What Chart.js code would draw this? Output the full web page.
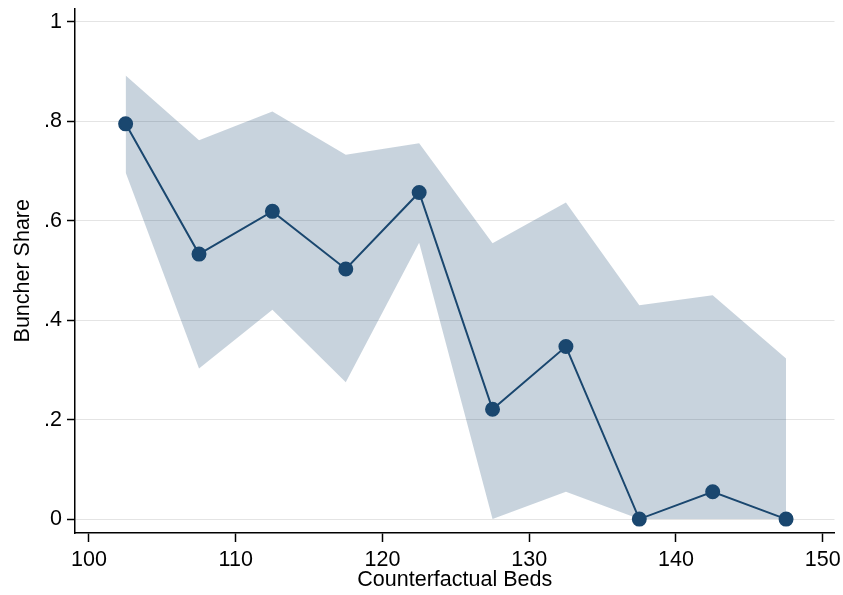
<!DOCTYPE html>
<html>
<head>
<meta charset="utf-8">
<script src="https://cdn.jsdelivr.net/npm/chart.js@4/dist/chart.umd.min.js"></script>
<style>
  html, body { margin: 0; padding: 0; background: #fff; }
  #wrap { width: 843px; height: 595px; }
</style>
</head>
<body>
<div id="wrap"><canvas id="bunchChart" width="843" height="595"></canvas></div>
<script>
// Buncher share by counterfactual bed bin, with 95% CI band
let beds = [102.5, 107.5, 112.5, 117.5, 122.5, 127.5, 132.5, 137.5, 142.5, 147.5];
let share = [0.795, 0.533, 0.619, 0.503, 0.657, 0.221, 0.347, 0, 0.055, 0];
let ciUpper = [0.892, 0.762, 0.82, 0.733, 0.756, 0.555, 0.637, 0.43, 0.45, 0.323];
let ciLower = [0.697, 0.303, 0.421, 0.275, 0.556, 0, 0.055, 0, 0, 0];
let xTicks = [100, 110, 120, 130, 140, 150];
let yTicks = [0, 0.2, 0.4, 0.6, 0.8, 1];

const navy = '#1a476f';
const font = { family: '"Liberation Sans", Arial, Helvetica, sans-serif', size: 21.5 };

function pts(arr) {
  return beds.map((b, i) => ({ x: b, y: arr[i] }));
}

function fmtY(v) {
  if (v === 0) return '0';
  if (v === 1) return '1';
  return String(Math.round(v * 10) / 10).replace(/^0/, '');
}

let ctx = document.getElementById('bunchChart').getContext('2d');
let bunchChart = new Chart(ctx, {
  type: 'line',
  data: {
    datasets: [
      {
        data: pts(share),
        borderColor: navy,
        borderWidth: 2,
        pointBackgroundColor: navy,
        pointBorderColor: navy,
        pointRadius: 6.5,
        fill: false,
        tension: 0,
        order: 0
      },
      {
        data: pts(ciUpper),
        borderWidth: 0,
        pointRadius: 0,
        backgroundColor: 'rgba(26, 71, 111, 0.24)',
        fill: '+1',
        tension: 0,
        order: 1
      },
      {
        data: pts(ciLower),
        borderWidth: 0,
        pointRadius: 0,
        fill: false,
        tension: 0,
        order: 1
      }
    ]
  },
  options: {
    responsive: false,
    animation: false,
    layout: { padding: { top: 6, right: 6, left: 0, bottom: 0 } },
    plugins: { legend: { display: false }, tooltip: { enabled: false } },
    scales: {
      x: {
        type: 'linear',
        min: 99.05,
        max: 150.8,
        afterBuildTicks: s => { s.ticks = xTicks.map(v => ({ value: v })); },
        afterFit: s => { s.height = 62; s.paddingLeft = 0; s.paddingRight = 0; },
        ticks: { color: '#000', font: font, padding: 5, maxRotation: 0, autoSkip: false },
        grid: { drawOnChartArea: false, drawTicks: true, tickLength: 9, tickColor: '#000', tickWidth: 1.5 },
        border: { color: '#000', width: 1.5 },
        title: { display: true, text: 'Counterfactual Beds', color: '#000', font: font, padding: { top: 0, bottom: 2 } }
      },
      y: {
        min: -0.028,
        max: 1.027,
        afterBuildTicks: s => { s.ticks = yTicks.map(v => ({ value: v })); },
        afterFit: s => { s.width = 75; s.paddingTop = 0; s.paddingBottom = 0; },
        ticks: { color: '#000', font: font, padding: 5, callback: v => fmtY(v) },
        grid: { color: '#e4e4e4', lineWidth: 1, drawTicks: true, tickLength: 8, tickColor: '#000', tickWidth: 1.5 },
        border: { color: '#000', width: 1.5 },
        title: { display: true, text: 'Buncher Share', color: '#000', font: font, padding: { top: 10, bottom: 0 } }
      }
    }
  }
});
</script>
</body>
</html>
